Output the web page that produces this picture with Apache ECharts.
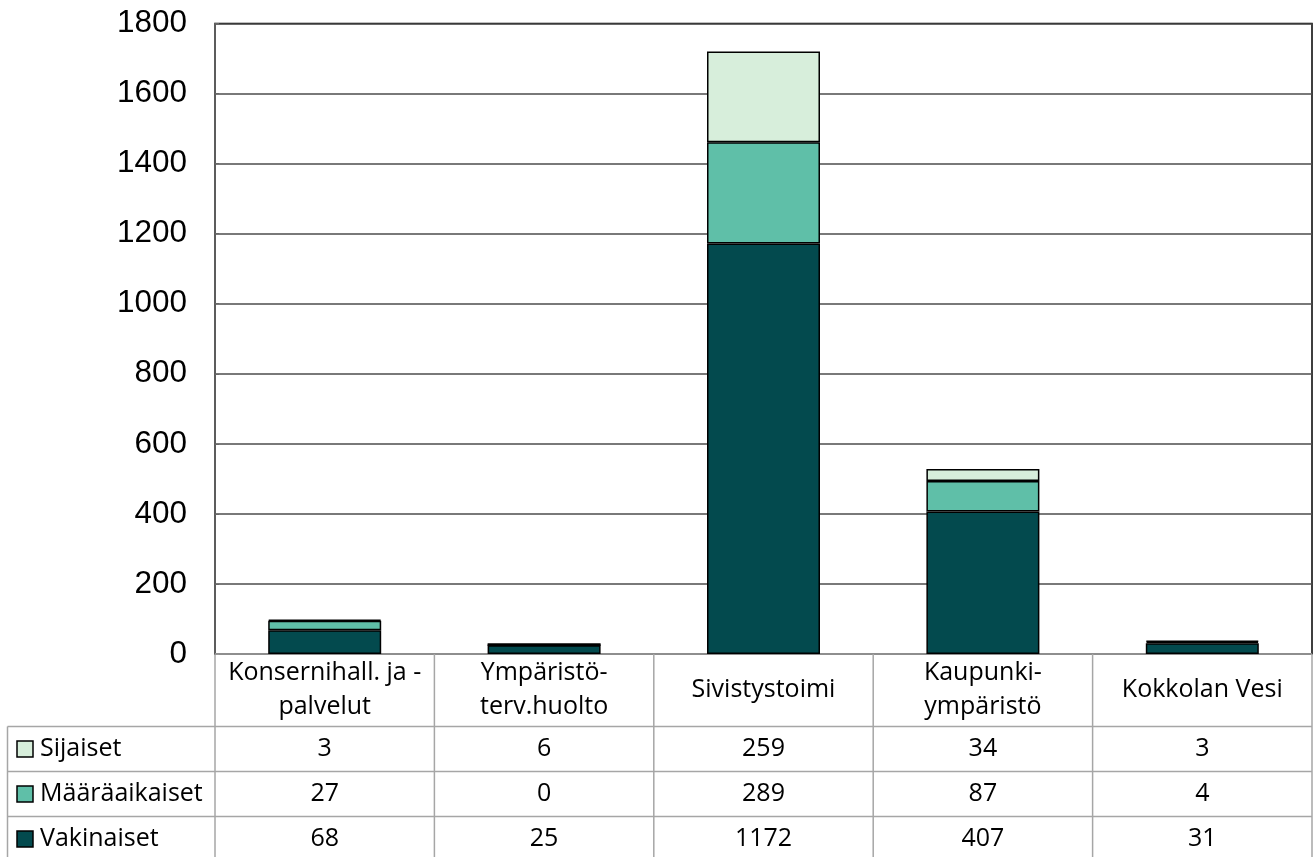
<!DOCTYPE html>
<html><head><meta charset="utf-8">
<script src="https://cdn.jsdelivr.net/npm/echarts@6/dist/echarts.min.js"></script>
<style>html,body{margin:0;padding:0;background:#fff}#c{width:1314px;height:857px}</style>
</head><body><div id="c"></div>
<script>
var categories = ['Konsernihall. ja -\npalvelut', 'Ympäristö-\nterv.huolto', 'Sivistystoimi', 'Kaupunki-\nympäristö', 'Kokkolan Vesi'];
var seriesNames = ['Sijaiset', 'Määräaikaiset', 'Vakinaiset'];
var vakinaiset = [68, 25, 1172, 407, 31];
var maaraaikaiset = [27, 0, 289, 87, 4];
var sijaiset = [3, 6, 259, 34, 3];
var yTicks = [0, 200, 400, 600, 800, 1000, 1200, 1400, 1600, 1800];

var colors = {Vakinaiset: '#034a4e', 'Määräaikaiset': '#5fbfa8', Sijaiset: '#d7eedb'};
var tableRows = [['Sijaiset', sijaiset], ['Määräaikaiset', maaraaikaiset], ['Vakinaiset', vakinaiset]];

var G = {left: 215, right: 2, top: 23.5, bottom: 203};
var tableFont = '"Open Sans", "Noto Sans", sans-serif';
var tableSize = 25;
var chart = echarts.init(document.getElementById('c'));

function barSeries(name, data) {
  return {
    name: name, type: 'bar', stack: 'tot', data: data, barWidth: '51.5%',
    itemStyle: {color: colors[name], borderColor: '#000', borderWidth: 1.5},
    emphasis: {disabled: true}
  };
}

chart.setOption({
  animation: false,
  grid: {left: G.left, right: G.right, top: G.top, bottom: G.bottom, show: true, borderColor: '#000', borderWidth: 1.5, containLabel: false},
  xAxis: {
    type: 'category', data: categories,
    axisLine: {show: false}, axisTick: {show: false},
    axisLabel: {margin: 36, verticalAlign: 'middle', fontFamily: tableFont, fontSize: tableSize, lineHeight: 34, color: '#000', interval: 0}
  },
  yAxis: {
    type: 'value', min: yTicks[0], max: yTicks[yTicks.length - 1], interval: 200,
    axisLine: {show: true, lineStyle: {color: '#666', width: 1.5}},
    axisTick: {show: true, inside: true, length: 4, lineStyle: {color: '#666'}},
    axisLabel: {margin: 28, fontFamily: 'Liberation Sans, Arial, sans-serif', fontSize: 31.5, color: '#000',
      formatter: function (v) { return String(v); }},
    splitLine: {lineStyle: {color: '#4d4d4d', width: 1.5}}
  },
  series: [barSeries('Vakinaiset', vakinaiset), barSeries('Määräaikaiset', maaraaikaiset), barSeries('Sijaiset', sijaiset)]
});

// data table below the plot
var g = [];
var plotBottom = 857 - G.bottom;
var headerBottom = 726.5;
var rowH = 45;
var tableLeft = 7.5;
var plotRight = 1314 - G.right;
var lineStyle = {stroke: '#a6a6a6', lineWidth: 1.5};
var colEdges = [G.left];
var step = (plotRight - G.left) / categories.length;
for (var i = 1; i <= categories.length; i++) colEdges.push(G.left + step * i);
var tableBottom = headerBottom + rowH * tableRows.length;
g.push({type: 'line', shape: {x1: G.left, y1: plotBottom, x2: plotRight, y2: plotBottom}, style: lineStyle, z: 1});
for (var r = 0; r <= tableRows.length; r++) {
  var y = headerBottom + rowH * r;
  g.push({type: 'line', shape: {x1: tableLeft, y1: y, x2: plotRight, y2: y}, style: lineStyle});
}
colEdges.forEach(function (x) {
  g.push({type: 'line', shape: {x1: x, y1: plotBottom, x2: x, y2: tableBottom}, style: lineStyle});
});
g.push({type: 'line', shape: {x1: tableLeft, y1: headerBottom, x2: tableLeft, y2: tableBottom}, style: lineStyle});
tableRows.forEach(function (row, r) {
  var cy = headerBottom + rowH * r + rowH / 2;
  var name = row[0];
  g.push({type: 'rect', shape: {x: 17, y: cy - 8, width: 16, height: 16}, style: {fill: colors[name], stroke: '#000', lineWidth: 1.5}});
  g.push({type: 'text', x: 40, y: cy, style: {text: name, font: tableSize + 'px ' + tableFont, fill: '#000', verticalAlign: 'middle', align: 'left'}});
  row[1].forEach(function (v, c) {
    var cx = chart.convertToPixel({xAxisIndex: 0}, c);
    g.push({type: 'text', x: cx, y: cy, style: {text: String(v), font: tableSize + 'px ' + tableFont, fill: '#000', verticalAlign: 'middle', align: 'center'}});
  });
});
chart.setOption({graphic: g});
</script></body></html>
